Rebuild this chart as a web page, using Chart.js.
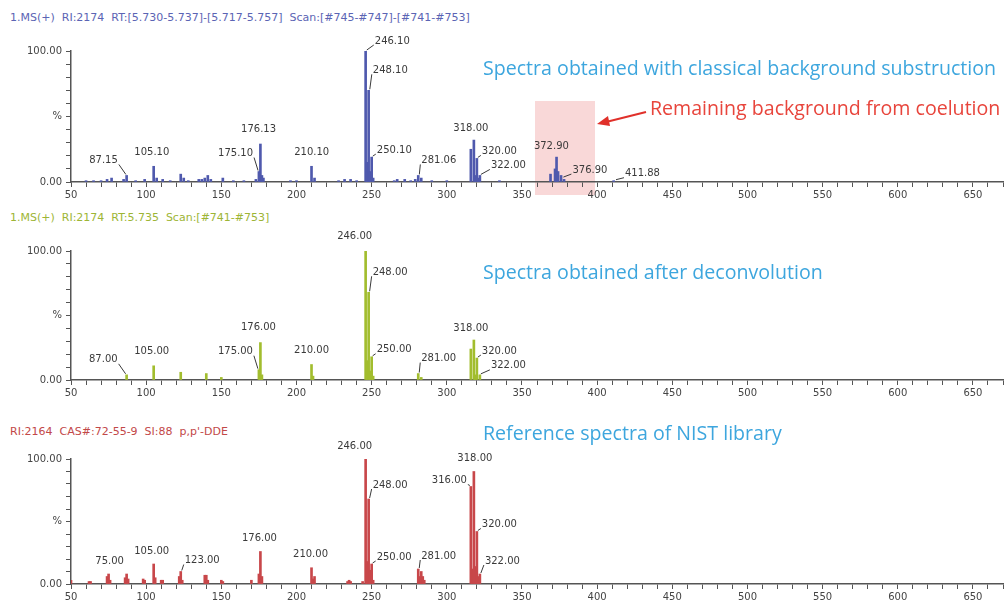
<!DOCTYPE html>
<html>
<head>
<meta charset="utf-8">
<script src="https://cdn.jsdelivr.net/npm/chart.js@4"></script>
<style>
  body { margin: 0; background: #fff; width: 1006px; height: 611px; overflow: hidden; position: relative; font-family: "DejaVu Sans", sans-serif; }
  canvas { position: absolute; left: 0; }
  .hdr { position: absolute; left: 10px; font-size: 11px; white-space: nowrap; }
  .ttl { position: absolute; font-family: "Open Sans", sans-serif; font-size: 19.6px; line-height: 26px; white-space: nowrap; }
  #box { position: absolute; left: 535px; top: 101px; width: 60px; height: 94px; background: #f9d8d8; }
</style>
</head>
<body>
<div id="box"></div>
<div class="hdr" style="top:11px;color:#5b64b4">1.MS(+)&nbsp; RI:2174&nbsp; RT:[5.730-5.737]-[5.717-5.757]&nbsp; Scan:[#745-#747]-[#741-#753]</div>
<div class="hdr" style="top:211px;color:#9db535">1.MS(+)&nbsp; RI:2174&nbsp; RT:5.735&nbsp; Scan:[#741-#753]</div>
<div class="hdr" style="top:425px;color:#c24848">RI:2164&nbsp; CAS#:72-55-9&nbsp; SI:88&nbsp; p,p'-DDE</div>

<canvas id="top" width="1006" height="173" style="top:31px"></canvas>
<canvas id="mid" width="1006" height="181" style="top:221px"></canvas>
<canvas id="bot" width="1006" height="167" style="top:439px"></canvas>

<div class="ttl" style="left:483px;top:55px;color:#3da6de">Spectra obtained with classical background substruction</div>
<div class="ttl" style="left:650px;top:95px;color:#e8453c">Remaining background from coelution</div>
<div class="ttl" style="left:483px;top:259px;color:#3da6de">Spectra obtained after deconvolution</div>
<div class="ttl" style="left:483px;top:420px;color:#3da6de">Reference spectra of NIST library</div>

<svg style="position:absolute;left:0;top:0" width="1006" height="611">
  <line x1="646" y1="112" x2="606" y2="122" stroke="#e0302a" stroke-width="2.2"/>
  <polygon points="597,124 608,116 610,126" fill="#e0302a"/>
</svg>

<script>
// m/z and relative intensity (%)
const topMz  = [60, 65, 70, 74, 77, 85, 87, 93, 99, 105, 107, 111, 116, 123, 125, 128, 135, 137, 139, 141, 143, 151, 158, 165, 173, 175, 176, 177, 178, 196, 200, 210, 212, 228, 232, 236, 240, 246, 247, 248, 249, 250, 251, 265, 267, 272, 276, 279, 281, 283, 290, 300, 316, 318, 319, 320, 321, 322, 335, 369, 372, 373, 374, 376, 378, 411];
const topInt = [1, 1, 1, 2, 3, 2, 5, 1, 2, 12, 3, 2, 1, 6, 3, 1, 2, 2, 3, 5, 2, 3, 1, 1, 2, 8, 29, 5, 3, 1, 1, 12, 3, 1, 2, 2, 1, 100, 15, 70, 8, 19, 3, 1, 2, 2, 1, 2, 5, 3, 1, 1, 25, 32, 5, 18, 3, 5, 1, 6, 10, 19, 8, 5, 2, 1];

const midMz  = [87, 105, 123, 140, 150, 175, 176, 177, 210, 211, 246, 247, 248, 249, 250, 251, 281, 283, 316, 318, 319, 320, 322];
const midInt = [4, 11, 6, 5, 2, 8, 29, 4, 12, 3, 100, 15, 68, 7, 18, 3, 5, 2, 24, 31, 4, 17, 4];

const botMz  = [50, 62, 63, 74, 75, 76, 86, 87, 88, 98, 99, 105, 106, 110, 111, 122, 123, 124, 139, 140, 141, 150, 151, 170, 175, 176, 177, 210, 211, 212, 234, 235, 236, 244, 246, 247, 248, 249, 250, 251, 281, 282, 283, 284, 285, 316, 317, 318, 319, 320, 321, 322];
const botInt = [3, 2, 2, 6, 8, 3, 5, 8, 4, 4, 3, 16, 5, 3, 3, 6, 10, 3, 7, 7, 3, 3, 2, 3, 8, 26, 6, 13, 4, 6, 2, 3, 2, 2, 100, 18, 68, 11, 16, 3, 12, 6, 10, 6, 3, 78, 12, 90, 14, 42, 6, 8];

// peak labels: [m/z, intensity, text]
const topLabels = [[246.1, 100, '246.10'], [248.1, 70, '248.10'], [250.1, 19, '250.10'], [176.13, 29, '176.13'], [175.1, 8, '175.10'], [210.1, 12, '210.10'], [105.1, 12, '105.10'], [87.15, 5, '87.15'], [318, 32, '318.00'], [320, 18, '320.00'], [322, 5, '322.00'], [281.06, 5, '281.06'], [372.9, 19, '372.90'], [376.9, 3, '376.90'], [411.88, 1, '411.88']];
const midLabels = [[246, 100, '246.00'], [248, 68, '248.00'], [250, 18, '250.00'], [176, 29, '176.00'], [175, 8, '175.00'], [210, 12, '210.00'], [105, 11, '105.00'], [87, 4, '87.00'], [318, 31, '318.00'], [320, 17, '320.00'], [322, 4, '322.00'], [281, 5, '281.00']];
const botLabels = [[246, 100, '246.00'], [248, 68, '248.00'], [250, 16, '250.00'], [176, 26, '176.00'], [210, 13, '210.00'], [105, 16, '105.00'], [123, 10, '123.00'], [75, 8, '75.00'], [281, 12, '281.00'], [318, 90, '318.00'], [316, 78, '316.00'], [320, 42, '320.00'], [322, 8, '322.00']];

// where each label sits relative to its peak: [dx, dy, align, leader]
const placeTop = {
  '246.10': [9, -10, 'left', true], '248.10': [4, -20, 'left', true], '250.10': [5, -7, 'left', true],
  '176.13': [-2, -15, 'center', false], '175.10': [-6, -18, 'right', true], '210.10': [0, -14, 'center', false],
  '105.10': [-2, -14, 'center', false], '87.15': [-9, -15, 'right', true], '318.00': [-3, -12, 'center', false],
  '320.00': [5, -7, 'left', true], '322.00': [11, -10, 'left', true], '281.06': [3, -15, 'left', true],
  '372.90': [-5, -11, 'center', false], '376.90': [10, -8, 'left', true], '411.88': [10, -7, 'left', true]
};
const placeMid = {
  '246.00': [-11, -15, 'center', false], '248.00': [4, -20, 'left', true], '250.00': [5, -7, 'left', true],
  '176.00': [-2, -15, 'center', false], '175.00': [-6, -18, 'right', true], '210.00': [0, -14, 'center', false],
  '105.00': [-2, -14, 'center', false], '87.00': [-9, -15, 'right', true], '318.00': [-3, -12, 'center', false],
  '320.00': [5, -7, 'left', true], '322.00': [11, -9, 'left', true], '281.00': [3, -15, 'left', true]
};
const placeBot = {
  '246.00': [-11, -13, 'center', false], '248.00': [4, -14, 'left', true], '250.00': [5, -7, 'left', true],
  '176.00': [-1, -13, 'center', false], '210.00': [-1, -13, 'center', false], '105.00': [-2, -13, 'center', false],
  '123.00': [4, -11, 'left', true], '75.00': [1, -13, 'center', false], '281.00': [3, -13, 'left', true],
  '318.00': [1, -13, 'center', false], '316.00': [-4, -6, 'right', true], '320.00': [5, -7, 'left', true],
  '322.00': [5, -13, 'left', true]
};

const peakLabels = {
  id: 'peakLabels',
  afterDatasetsDraw(chart, args, opts) {
    const ctx = chart.ctx;
    const xs = chart.scales.x, ys = chart.scales.y;
    ctx.save();
    ctx.font = '10px "DejaVu Sans", sans-serif';
    ctx.fillStyle = '#3a3a3a';
    ctx.strokeStyle = '#3a3a3a';
    ctx.lineWidth = 1;
    ctx.textBaseline = 'middle';
    opts.labels.forEach(l => {
      const p = opts.place[l[2]];
      const px = xs.getPixelForValue(l[0]);
      const py = ys.getPixelForValue(l[1]);
      const tx = px + p[0], ty = py + p[1];
      ctx.textAlign = p[2];
      ctx.fillText(l[2], tx, ty);
      if (p[3]) {
        ctx.beginPath();
        ctx.moveTo(px + (p[2] === 'right' ? -1 : 1), py - 1);
        ctx.lineTo(p[2] === 'right' ? tx + 1 : tx - 1, ty + 4);
        ctx.stroke();
      }
    });
    ctx.restore();
  }
};

function makeChart(id, mz, inten, color, labels, place, padTop) {
  new Chart(document.getElementById(id), {
    type: 'bar',
    data: {
      datasets: [{
        data: mz.map((m, i) => ({ x: m, y: inten[i] })),
        backgroundColor: color,
        barThickness: 2
      }]
    },
    options: {
      responsive: false,
      animation: false,
      layout: { padding: { top: padTop, right: 3, left: 0, bottom: 0 } },
      plugins: {
        legend: { display: false },
        tooltip: { enabled: false },
        peakLabels: { labels: labels, place: place }
      },
      scales: {
        x: {
          type: 'linear', min: 50, max: 670, offset: false,
          border: { color: '#555', width: 1.5 },
          grid: { offset: false, drawOnChartArea: false, tickLength: 5, color: '#555' },
          ticks: {
            stepSize: 10, autoSkip: false, maxRotation: 0, padding: 2,
            color: '#444', font: { family: 'DejaVu Sans', size: 10 },
            callback: v => (v % 50 === 0 ? v : '')
          },
          afterFit: s => { s.height = 22; }
        },
        y: {
          min: 0, max: 100,
          border: { color: '#555', width: 1.5 },
          grid: { drawOnChartArea: false, tickLength: 5, color: '#555' },
          ticks: {
            stepSize: 10, autoSkip: false, padding: 4,
            color: '#444', font: { family: 'DejaVu Sans', size: 10 },
            callback: v => (v === 100 ? '100.00' : v === 50 ? '%' : v === 0 ? '0.00' : '')
          },
          afterFit: s => { s.width = 71; }
        }
      }
    },
    plugins: [peakLabels]
  });
}

makeChart('top', topMz, topInt, '#4f59ad', topLabels, placeTop, 20);
makeChart('mid', midMz, midInt, '#a2bd2e', midLabels, placeMid, 30);
makeChart('bot', botMz, botInt, '#c8474a', botLabels, placeBot, 20);
</script>
</body>
</html>
